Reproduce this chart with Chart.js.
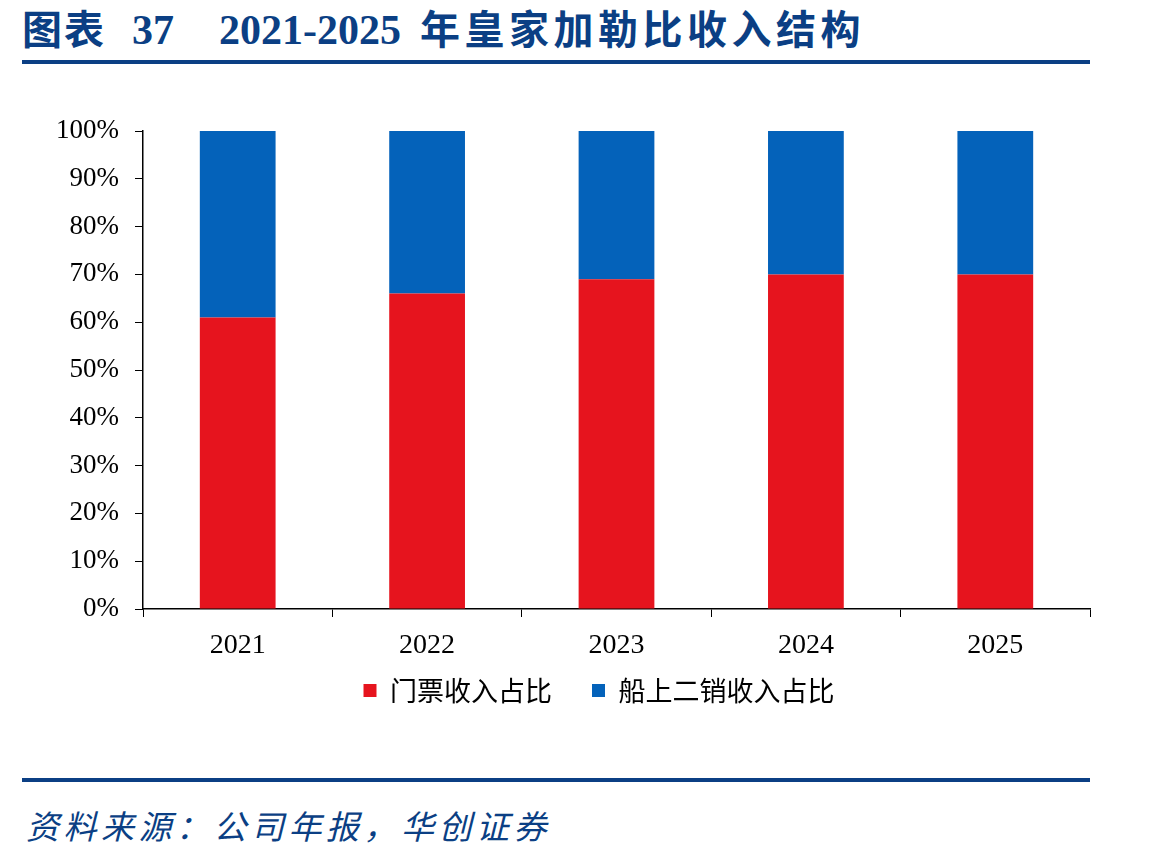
<!DOCTYPE html>
<html>
<head>
<meta charset="utf-8">
<script src="https://cdn.jsdelivr.net/npm/chart.js@4"></script>
<style>
  body { margin: 0; background: #fff; width: 1149px; height: 857px; position: relative; overflow: hidden; }
  #title { position: absolute; left: 22px; top: -2px; font: bold 40px "Liberation Serif", "Noto Sans CJK SC", serif; color: #0b3f84; white-space: pre; }
  #title .n { font-size: 42px; }
  .rule { position: absolute; left: 22px; width: 1068px; height: 4px; background: #0b3f84; }
  #src { position: absolute; left: 26px; top: 801px; font: italic 33px "Noto Sans CJK SC", serif; letter-spacing: 4.5px; color: #0b3f84; }
  #wrap { position: absolute; left: 0; top: 0; }
</style>
</head>
<body>
<div id="title"><span style="letter-spacing:2px">图表</span><span class="n" style="margin-left:26px">37</span><span class="n" style="margin-left:45px">2021-2025</span><span style="margin-left:19px;letter-spacing:4.5px">年皇家加勒比收入结构</span></div>
<div class="rule" style="top:60px"></div>
<div id="wrap"><canvas id="c" width="1149" height="760"></canvas></div>
<div class="rule" style="top:778px"></div>
<div id="src">资料来源：公司年报，华创证券</div>
<script>
var years = ['2021', '2022', '2023', '2024', '2025'];
var ticketShare = [61, 66, 69, 70, 70];
var onboardShare = [39, 34, 31, 30, 30];

var serif = '"Liberation Serif", "Times New Roman", serif';

// nudge the legend so it sits under the plot like the original
var legendShift = {
    id: 'legendShift',
    afterLayout: function (chart) {
        var lg = chart.legend;
        lg.left += 54; lg.right += 54;
        lg.top -= 32; lg.bottom -= 32;
    }
};

new Chart(document.getElementById('c'), {
    type: 'bar',
    data: {
        labels: years,
        datasets: [{
            label: '门票收入占比',
            data: ticketShare,
            backgroundColor: '#e6141e',
            barPercentage: 0.4,
            categoryPercentage: 1
        }, {
            label: '船上二销收入占比',
            data: onboardShare,
            backgroundColor: '#0462ba',
            barPercentage: 0.4,
            categoryPercentage: 1
        }]
    },
    plugins: [legendShift],
    options: {
        responsive: false,
        animation: false,
        layout: { padding: { left: 0, right: 59, top: 131, bottom: 14 } },
        plugins: {
            tooltip: { enabled: false },
            legend: {
                position: 'bottom',
                labels: {
                    boxWidth: 13, boxHeight: 13, padding: 40, color: '#000',
                    font: { family: '"Noto Sans CJK SC"', size: 27 }
                }
            }
        },
        scales: {
            x: {
                stacked: true,
                border: { color: '#000', width: 1.5 },
                grid: {
                    offset: true, drawOnChartArea: false, tickLength: 8,
                    color: function (ctx) { return ctx.index === years.length ? 'transparent' : '#000'; }
                },
                ticks: { color: '#000', padding: 12, font: { family: serif, size: 28 } },
                afterFit: function (s) { s.height = 60; }
            },
            y: {
                stacked: true,
                min: 0, max: 100,
                border: { color: '#000', width: 1.5 },
                grid: { drawOnChartArea: false, tickLength: 8, color: '#000' },
                ticks: {
                    stepSize: 10, color: '#000', padding: 16,
                    font: { family: serif, size: 27 },
                    callback: function (v) { return v + '%'; }
                },
                afterFit: function (s) { s.width = 143; }
            }
        }
    }
});
</script>
</body>
</html>
